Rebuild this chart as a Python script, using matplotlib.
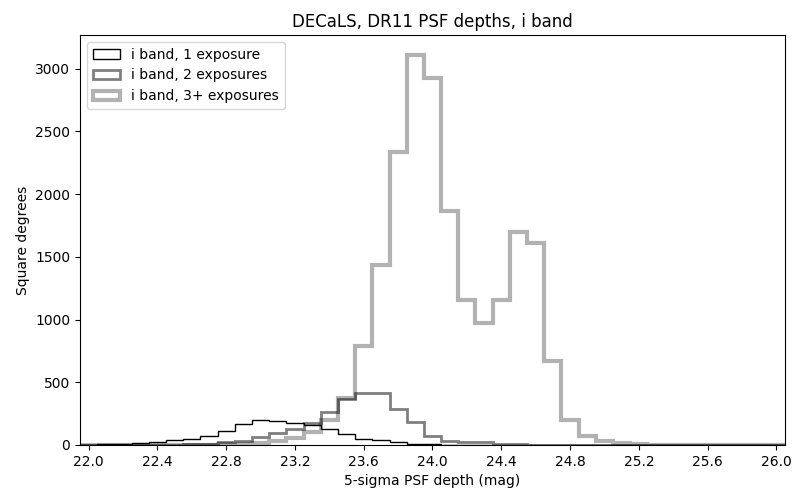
import numpy as np
import matplotlib
matplotlib.use("Agg")
import matplotlib.pyplot as plt

# bin centres (mag), width 0.1
centers = [round(22.0 + 0.1 * i, 1) for i in range(41)]

one_exp = [2, 4, 8, 13, 21, 40, 48, 72, 113, 168,
           197, 189, 178, 160, 125, 88, 51, 40, 21, 11,
           5, 3, 2, 1, 1, 0, 0, 0, 0, 0,
           0, 0, 0, 0, 0, 0, 0, 0, 0, 0, 0]

two_exp = [1, 1, 1, 1, 1, 3, 5, 10, 24, 32,
           61, 93, 130, 172, 264, 364, 413, 413, 290, 181,
           72, 32, 24, 24, 8, 8, 1, 0, 0, 0,
           0, 0, 0, 0, 0, 0, 0, 0, 0, 0, 0]

three_exp = [0, 0, 0, 1, 1, 1, 2, 3, 5, 8,
             19, 35, 57, 100, 200, 372, 788, 1431, 2332, 3112,
             2924, 1862, 1155, 970, 1155, 1694, 1607, 672, 196, 74,
             35, 15, 4, 2, 1, 1, 1, 0, 0, 0, 0]

labels = ["i band, 1 exposure", "i band, 2 exposures", "i band, 3+ exposures"]

centers_a = np.array(centers)
edges = np.concatenate([centers_a - 0.05, [centers_a[-1] + 0.05]])

fig = plt.figure(figsize=(8, 5), dpi=100)
ax = fig.add_axes([0.1, 0.11, 0.88125, 0.82])

ax.hist(centers_a, bins=edges, weights=one_exp, histtype="step",
        color="k", lw=1, label=labels[0])
ax.hist(centers_a, bins=edges, weights=two_exp, histtype="step",
        color="k", alpha=0.5, lw=2, label=labels[1])
ax.hist(centers_a, bins=edges, weights=three_exp, histtype="step",
        color="k", alpha=0.3, lw=3, label=labels[2])

ax.set_xlim(edges[0], edges[-1])
ax.set_xticks(np.arange(22.0, 26.01, 0.4))
ax.set_xticklabels([f"{v:.1f}" for v in np.arange(22.0, 26.01, 0.4)])
ax.set_yticks(np.arange(0, 3001, 500))
ax.set_xlabel("5-sigma PSF depth (mag)")
ax.set_ylabel("Square degrees")
ax.set_title("DECaLS, DR11 PSF depths, i band")
ax.legend(loc="upper left")

fig.savefig("out.png", dpi=100)
